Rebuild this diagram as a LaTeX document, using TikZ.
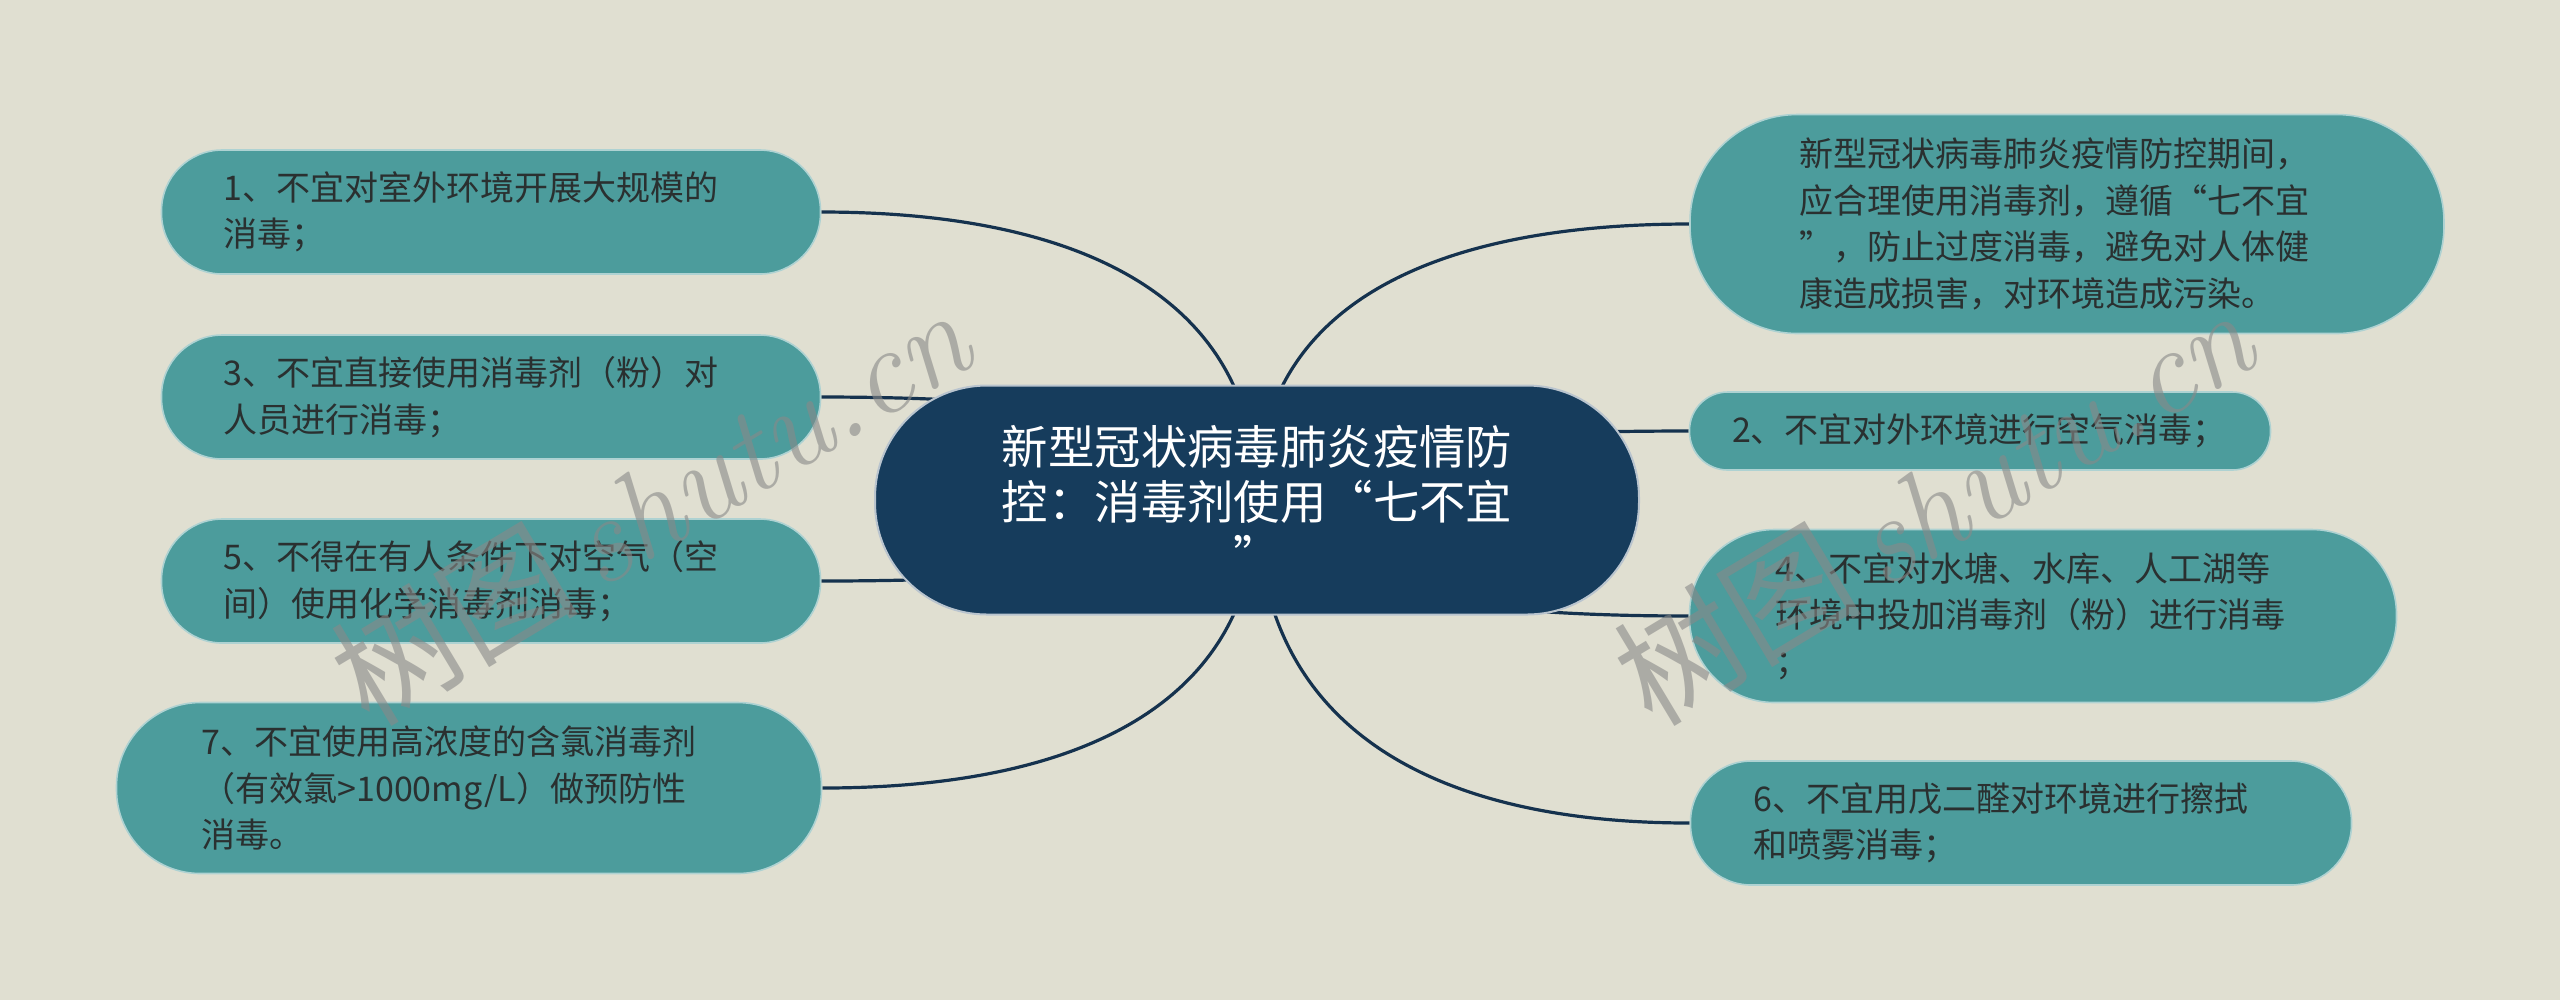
\documentclass[tikz,border=0pt]{standalone}
\usepackage{fontspec}
\newfontfamily\cjk{Noto Sans CJK SC}
\usetikzlibrary{calc, backgrounds}

\definecolor{paper}{HTML}{E0DFD1}
\definecolor{leafteal}{HTML}{4C9C9C}
\definecolor{rootnavy}{HTML}{163C5C}
\definecolor{linkblue}{HTML}{15324E}
\definecolor{leafink}{HTML}{2A3030}

\tikzset{
  leaf/.style 2 args={draw=white!55!leafteal, line width=0.4pt, fill=leafteal, text=leafink,
    font=\cjk\fontsize{8.5pt}{11.6pt}\selectfont, align=left, text width=133.75pt, inner sep=0pt,
    minimum width=#1, minimum height=#2, rounded corners={0.49*#2}},
  root/.style={draw=white!70!rootnavy, line width=0.5pt, fill=rootnavy, text=white,
    font=\cjk\fontsize{11.6pt}{13.75pt}\selectfont, align=center, inner sep=0pt,
    minimum width=191pt, minimum height=57.25pt, rounded corners=28pt},
  link/.style={draw=linkblue, line width=0.8pt},
  watermark/.style={text=gray!90!paper, opacity=0.6, font=\cjk\fontsize{31pt}{31pt}\selectfont, inner sep=0pt}
}

\begin{document}
\begin{tikzpicture}[x=0.25pt, y=-0.25pt]
  \useasboundingbox (0,0) rectangle (2560,1000);

  % centre
  \node[root] (root) at (1257,500) {新型冠状病毒肺炎疫情防\\控：消毒剂使用“七不宜\\”};

  % left branch
  \node[leaf={164.75pt}{31pt}] (l1) at (491,212) {1、不宜对室外环境开展大规模的\\消毒；};
  \node[leaf={164.75pt}{31pt}] (l3) at (491,397) {3、不宜直接使用消毒剂（粉）对\\人员进行消毒；};
  \node[leaf={164.75pt}{31pt}] (l5) at (491,581) {5、不得在有人条件下对空气（空\\间）使用化学消毒剂消毒；};
  \node[leaf={176.25pt}{42.75pt}] (l7) at (469,788) {7、不宜使用高浓度的含氯消毒剂\\（有效氯>1000mg/L）做预防性\\消毒。};

  % right branch
  \node[leaf={188.5pt}{54.75pt}] (r0) at (2067,224) {新型冠状病毒肺炎疫情防控期间，\\应合理使用消毒剂，遵循“七不宜\\”，防止过度消毒，避免对人体健\\康造成损害，对环境造成污染。};
  \node[leaf={145.25pt}{19.5pt}, text width=124pt] (r2) at (1980,431) {2、不宜对外环境进行空气消毒；};
  \node[leaf={176.75pt}{43.25pt}] (r4) at (2043,616) {4、不宜对水塘、水库、人工湖等\\环境中投加消毒剂（粉）进行消毒\\；};
  \node[leaf={165.25pt}{31pt}] (r6) at (2021,823) {6、不宜用戊二醛对环境进行擦拭\\和喷雾消毒；};

  \begin{scope}[on background layer]
    \fill[paper] (0,0) rectangle (2560,1000);
    \foreach \leaf/\side in {l1/east, l3/east, l5/east, l7/east, r0/west, r2/west, r4/west, r6/west}
      \draw[link] let \p1=(\leaf.\side), \p2=(root.center) in
        (\p1) .. controls ({\x1+0.6*(\x2-\x1)},\y1) and (\x2,{\y1+0.3*(\y2-\y1)}) .. (\p2);
  \end{scope}

  % watermarks
  \node[watermark, rotate=31] (wm1) at (650,505) {树图\,{\rmfamily\itshape shutu.cn}};
  \node[watermark, rotate=31] (wm2) at (1933,505) {树图\,{\rmfamily\itshape shutu.cn}};
\end{tikzpicture}
\end{document}
